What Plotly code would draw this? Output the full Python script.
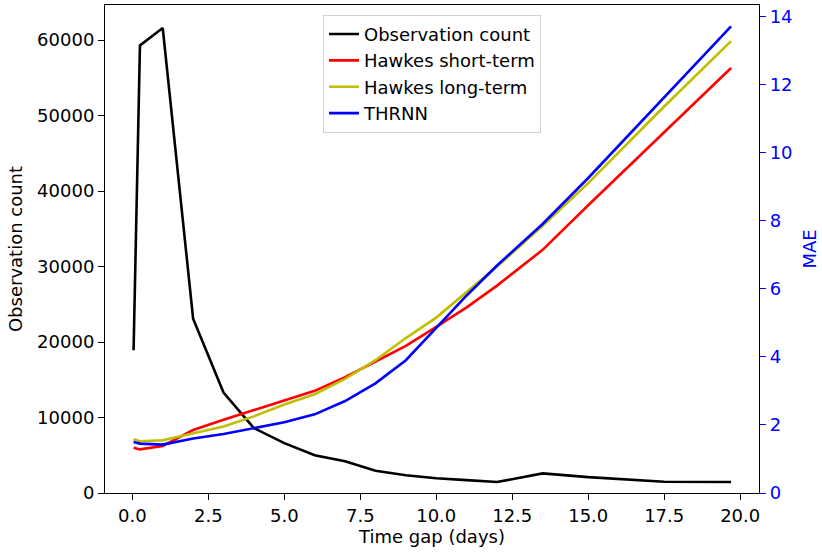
import plotly.graph_objects as go

time_gap = [0.04, 0.25, 1, 2, 3, 4, 5, 6, 7, 8, 9, 10, 11, 12, 13.5, 15, 17.5, 19.7]
obs_count = [18900, 59300, 61600, 23100, 13300, 8600, 6600, 5000, 4200, 2950, 2350,
             1950, 1700, 1450, 2600, 2100, 1500, 1450]
mae_hawkes_short = [1.33, 1.28, 1.38, 1.85, 2.15, 2.44, 2.73, 3.0, 3.4, 3.85, 4.32,
                    4.88, 5.45, 6.09, 7.14, 8.45, 10.6, 12.48]
mae_hawkes_long = [1.58, 1.52, 1.55, 1.75, 1.95, 2.25, 2.6, 2.9, 3.35, 3.9, 4.55,
                   5.15, 5.9, 6.65, 7.85, 9.1, 11.35, 13.27]
mae_thrnn = [1.50, 1.45, 1.42, 1.6, 1.73, 1.9, 2.08, 2.31, 2.7, 3.22, 3.9,
             4.85, 5.8, 6.68, 7.9, 9.25, 11.6, 13.7]

x_ticks = [0, 2.5, 5, 7.5, 10, 12.5, 15, 17.5, 20]
left_ticks = [0, 10000, 20000, 30000, 40000, 50000, 60000]
right_ticks = [0, 2, 4, 6, 8, 10, 12, 14]

FONT = "DejaVu Sans"
FS = 18
LW = 2.6

fig = go.Figure()
fig.add_trace(go.Scatter(x=time_gap, y=obs_count, mode="lines", name="Observation count",
                         line=dict(color="black", width=LW), yaxis="y"))
fig.add_trace(go.Scatter(x=time_gap, y=mae_hawkes_short, mode="lines", name="Hawkes short-term",
                         line=dict(color="#ff0000", width=LW), yaxis="y2"))
fig.add_trace(go.Scatter(x=time_gap, y=mae_hawkes_long, mode="lines", name="Hawkes long-term",
                         line=dict(color="#bfbf00", width=LW), yaxis="y2"))
fig.add_trace(go.Scatter(x=time_gap, y=mae_thrnn, mode="lines", name="THRNN",
                         line=dict(color="#0000ff", width=LW), yaxis="y2"))

fig.update_layout(
    width=822, height=554,
    margin=dict(l=105, r=63, t=5, b=61),
    paper_bgcolor="white", plot_bgcolor="white",
    font=dict(family=FONT, size=FS, color="black"),
    showlegend=True,
    legend=dict(x=0.5, xanchor="center", y=0.98, yanchor="top",
                bgcolor="rgba(255,255,255,0.8)", bordercolor="#d0d0d0", borderwidth=1,
                font=dict(family=FONT, size=FS, color="black"),
                tracegroupgap=0, itemwidth=30),
    xaxis=dict(range=[-0.9, 20.62], tickvals=x_ticks, tickformat=".1f",
               showgrid=False, zeroline=False, showline=True, linecolor="black",
               linewidth=1.1, mirror=True, ticks="outside", ticklen=6, tickwidth=1.1,
               tickcolor="black",
               title=dict(text="Time gap (days)", standoff=5, font=dict(size=FS))),
    yaxis=dict(range=[0, 64650], tickvals=left_ticks, tickformat="d",
               showgrid=False, zeroline=False, showline=True, linecolor="black",
               linewidth=1.1, mirror=True, ticks="outside", ticklen=6, tickwidth=1.1,
               tickcolor="black",
               title=dict(text="Observation count", standoff=9, font=dict(size=FS))),
    yaxis2=dict(range=[0, 14.33], tickvals=right_ticks, overlaying="y", side="right",
                showgrid=False, zeroline=False, showline=True, linecolor="black",
                linewidth=1.1, ticks="outside", ticklen=6, tickwidth=1.1,
                tickcolor="#0000ff", tickfont=dict(color="#0000ff"),
                title=dict(text="MAE", standoff=11, font=dict(size=FS, color="#0000ff"))),
)

fig.write_html("out.html")
